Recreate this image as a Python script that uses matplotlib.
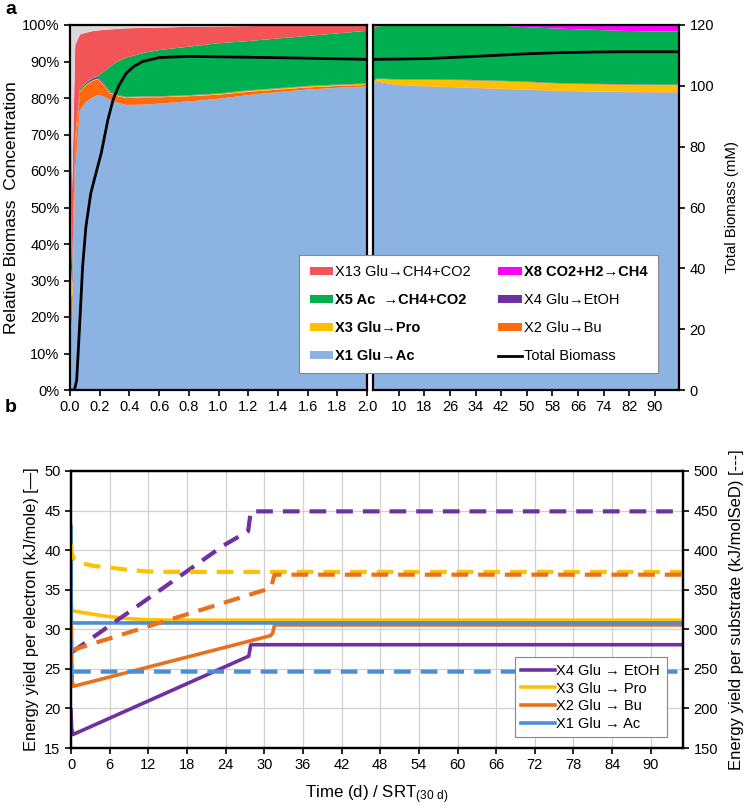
import matplotlib
matplotlib.use("Agg")
import matplotlib.pyplot as plt
import numpy as np
from matplotlib.patches import Patch
from matplotlib.lines import Line2D

plt.rcParams['font.family'] = ['Liberation Sans', 'DejaVu Sans']
plt.rcParams['mathtext.default'] = 'regular'

# ---- panel a: relative biomass (%), early phase 0-2 d ----
t_early = [0, 0.015, 0.035, 0.067, 0.11, 0.16, 0.19, 0.23, 0.27, 0.32,
           0.38, 0.5, 0.61, 0.81, 1.0, 1.2, 1.4, 1.6, 1.8, 2.0]
x1_early = [12.5, 20, 60, 76.7, 79.0, 80.3, 80.8, 80.4, 79.5, 78.7,
            78.1, 78.2, 78.5, 79.1, 79.8, 80.8, 81.6, 82.3, 82.8, 83.2]
x2_early = [12.5, 6, 6, 5.0, 4.6, 4.5, 4.3, 3.0, 1.8, 1.8,
            1.9, 2.0, 1.7, 1.4, 1.1, 0.9, 0.7, 0.6, 0.5, 0.4]
x3_early = [12.5, 3, 1.5, 0.3, 0.2, 0.2, 0.2, 0.2, 0.2, 0.2,
            0.2, 0.2, 0.2, 0.2, 0.25, 0.3, 0.3, 0.3, 0.3, 0.3]
x4_early = [12.5, 3, 1.0, 0.4, 0.4, 0.5, 0.5, 0.4, 0.3, 0.2,
            0.1, 0.1, 0.1, 0.1, 0.1, 0.1, 0.1, 0.1, 0.1, 0.1]
x5_early = [12.5, 2, 0.5, 0.2, 0.2, 0.2, 0.3, 3.3, 6.8, 9.1,
            10.8, 11.9, 12.7, 13.3, 13.75, 13.5, 13.6, 13.7, 14.0, 14.4]
x13_early = [12.5, 20, 25, 14.7, 13.5, 12.7, 12.4, 11.4, 10.2, 8.9,
             8.0, 6.8, 6.1, 5.4, 4.6, 4.1, 3.5, 2.85, 2.2, 1.6]
x8_early = [12.5, 2, 0.5, 0.1, 0, 0, 0, 0, 0, 0,
            0, 0, 0, 0, 0, 0, 0, 0, 0, 0]

# ---- panel a: relative biomass (%), 2-97 d ----
t_late = [2, 3, 5, 8, 12, 20, 30, 40, 50, 60, 70, 80, 90, 97.5]
x1_late = [83.6, 84.4, 84.0, 83.7, 83.4, 83.1, 82.8, 82.5, 82.2, 81.9, 81.7, 81.6, 81.5, 81.5]
x2_late = [0.3, 0.2, 0.2, 0.1, 0.1, 0.1, 0.1, 0.1, 0.1, 0.1, 0.1, 0.1, 0.1, 0.1]
x3_late = [0.2, 0.6, 1.0, 1.3, 1.5, 1.8, 2.0, 2.1, 2.1, 2.0, 2.0, 2.0, 2.0, 2.0]
x4_late = [0.1] * 14
x5_late = [14.6, 14.2, 14.5, 14.8, 14.9, 14.9, 15.0, 15.1, 14.9, 14.9, 14.8, 14.6, 14.5, 14.5]
x13_late = [1.2, 0.5, 0.2, 0, 0, 0, 0, 0, 0, 0, 0, 0, 0, 0]
x8_late = [0, 0, 0, 0, 0, 0, 0, 0.1, 0.6, 1.0, 1.3, 1.6, 1.8, 1.8]

# total biomass (mM)
tb_t_early = [0, 0.03, 0.045, 0.062, 0.085, 0.107, 0.14, 0.175, 0.21, 0.255,
              0.29, 0.33, 0.38, 0.43, 0.49, 0.6, 0.8, 1.2, 1.6, 2.0]
tb_early = [0, 0, 3.2, 18.6, 40.6, 53.6, 64.7, 71.3, 77.8, 88.8,
            95.4, 100.2, 104.2, 106.4, 108.0, 109.3, 109.7, 109.4, 109.1, 108.7]
tb_t_late = [2, 10, 20, 28, 40, 49, 60, 70, 80, 97.5]
tb_late = [108.7, 108.8, 109.0, 109.4, 110.0, 110.5, 110.9, 111.1, 111.2, 111.2]

# ---- panel b: energy yields ----
x1_e_t = [0, 0.05, 0.3, 95]
x1_e = [43, 30.8, 30.8, 30.8]
x1_s_t = [0, 0.1, 0.4, 95]
x1_s = [290, 235, 246.5, 246.5]
x2_e_t = [0, 0.15, 0.4, 31.0, 31.3, 31.6, 95]
x2_e = [34.2, 23.5, 22.8, 29.2, 29.5, 30.55, 30.55]
x2_s_t = [0, 0.3, 31.0, 31.6, 95]
x2_s = [274, 274, 352, 369, 369]
x3_e_t = [0, 0.1, 0.5, 3.4, 6, 9, 12, 16, 95]
x3_e = [34, 32.4, 32.3, 31.9, 31.6, 31.35, 31.2, 31.15, 31.15]
x3_s_t = [0, 0.15, 0.6, 1.4, 3.5, 6, 9, 12, 16, 95]
x3_s = [408, 395, 388, 384, 380, 378, 375, 373, 372.5, 372.5]
x4_e_t = [0, 0.1, 0.3, 27.3, 27.6, 27.9, 95]
x4_e = [19.8, 17.5, 16.7, 26.5, 26.6, 28.05, 28.05]
x4_s_t = [0, 0.3, 23.7, 27.5, 27.9, 95]
x4_s = [272, 272, 406, 424, 449, 449]

labels_a = ['X1 Glu→Ac', 'X2 Glu→Bu', 'X3 Glu→Pro', 'X4 Glu→EtOH',
            'X5 Ac  →CH4+CO2', 'X13 Glu→CH4+CO2', 'X8 CO2+H2→CH4']
colors_a = ['#8DB3E2', '#FF6A10', '#FFC000', '#7030A0', '#00B050', '#F25458', '#FF00FF', '#D9D9D9']

c_x1, c_x2, c_x3, c_x4 = '#4A8ED6', '#E8711E', '#FFC000', '#7030A0'

fig = plt.figure(figsize=(7.53, 8.06), dpi=100)

H, W = 806, 753
ax1 = fig.add_axes([70 / W, 1 - 390 / H, 297 / W, 365 / H])
ax2 = fig.add_axes([373 / W, 1 - 390 / H, 306 / W, 365 / H])


def stack(ax, t, layers):
    arr = np.array(layers, dtype=float)
    other = np.clip(100 - arr.sum(axis=0), 0, None)
    ax.stackplot(t, *arr, other, colors=colors_a, linewidth=0)


stack(ax1, t_early, [x1_early, x2_early, x3_early, x4_early, x5_early, x13_early, x8_early])
stack(ax2, t_late, [x1_late, x2_late, x3_late, x4_late, x5_late, x13_late, x8_late])

for ax in (ax1, ax2):
    ax.set_ylim(0, 100)
    for s in ax.spines.values():
        s.set_linewidth(1.6)
    ax.tick_params(direction='out', length=4, width=1.2, labelsize=10.5)

ax1.set_xlim(0, 2.0)
ax1.set_xticks(np.arange(0, 2.01, 0.2))
ax1.set_xticklabels([f'{v:.1f}' for v in np.arange(0, 2.01, 0.2)])
ax1.set_yticks(np.arange(0, 101, 10))
ax1.set_yticklabels([f'{v}%' for v in range(0, 101, 10)])
ax1.set_ylabel('Relative Biomass  Concentration', fontsize=12.5, labelpad=2)

ax2.set_xlim(2, 97.5)
ax2.set_xticks(np.arange(10, 91, 8))
ax2.set_yticks([])

tw1 = ax1.twinx()
tw1.set_ylim(0, 120)
tw1.plot(tb_t_early, tb_early, color='black', lw=2)
tw1.set_yticks([])
tw1.set_frame_on(False)

tw2 = ax2.twinx()
tw2.set_ylim(0, 120)
tw2.plot(tb_t_late, tb_late, color='black', lw=2)
tw2.set_yticks(np.arange(0, 121, 20))
tw2.tick_params(direction='out', length=4, width=1.2, labelsize=10.5)
tw2.set_frame_on(False)
tw2.set_ylabel('Total Biomass (mM)', fontsize=10.7, labelpad=8)

# legend for panel a
h = {lab: Patch(facecolor=c, edgecolor='none') for lab, c in zip(labels_a, colors_a)}
handles = [h['X13 Glu→CH4+CO2'], h['X5 Ac  →CH4+CO2'], h['X3 Glu→Pro'], h['X1 Glu→Ac'],
           h['X8 CO2+H2→CH4'], h['X4 Glu→EtOH'], h['X2 Glu→Bu'],
           Line2D([], [], color='black', lw=2)]
leg_labels = ['X13 Glu→CH4+CO2', 'X5 Ac  →CH4+CO2', 'X3 Glu→Pro', 'X1 Glu→Ac',
              'X8 CO2+H2→CH4', 'X4 Glu→EtOH', 'X2 Glu→Bu', 'Total Biomass']
leg = fig.legend(handles, leg_labels, ncol=2, loc='upper left',
                 bbox_to_anchor=(292 / W, 1 - 248 / H), fontsize=10.5,
                 frameon=True, fancybox=False, edgecolor='#888888', framealpha=1,
                 handlelength=1.6, handleheight=0.45, handletextpad=0.15,
                 labelspacing=0.95, columnspacing=1.9, borderpad=0.7)
leg.get_frame().set_linewidth(0.8)
for txt in leg.get_texts():
    if txt.get_text() in ('X5 Ac  →CH4+CO2', 'X3 Glu→Pro', 'X1 Glu→Ac', 'X8 CO2+H2→CH4'):
        txt.set_fontweight('bold')

# ---- panel b ----
# left axis (per electron, solid) sits below; right axis (per substrate, dashed) on top
axb = fig.add_axes([71 / W, 1 - 748 / H, 612 / W, 277 / H])
axr = axb.twinx()
axb.set_xlim(0, 95)
axb.set_ylim(15, 50)
axr.set_ylim(150, 500)
axb.set_xticks(np.arange(0, 91, 6))
axb.set_yticks(np.arange(15, 51, 5))
axr.set_yticks(np.arange(150, 501, 50))
axb.grid(True, color='#D0D0D0', lw=0.9)
axb.set_axisbelow(True)

l4, = axb.plot(x4_e_t, x4_e, color=c_x4, lw=2.6)
l3, = axb.plot(x3_e_t, x3_e, color=c_x3, lw=2.6)
l2, = axb.plot(x2_e_t, x2_e, color=c_x2, lw=2.6)
l1, = axb.plot(x1_e_t, x1_e, color=c_x1, lw=2.6)

dash = dict(lw=3.0, linestyle=(0, (4, 2.4)))
axr.plot(x4_s_t, x4_s, color=c_x4, **dash)
axr.plot(x3_s_t, x3_s, color=c_x3, **dash)
axr.plot(x2_s_t, x2_s, color=c_x2, **dash)
axr.plot(x1_s_t, x1_s, color=c_x1, **dash)

for ax in (axb, axr):
    for s in ax.spines.values():
        s.set_linewidth(1.6)
    ax.tick_params(direction='out', length=4, width=1.2, labelsize=10.5)

axb.set_ylabel('Energy yield per electron (kJ/mole) [—]', fontsize=11.8, labelpad=4)
axr.set_ylabel('Energy yield per substrate (kJ/molSeD) [---]', fontsize=12, labelpad=8)
axb.set_xlabel('Time (d) / SRT$_{(30\\ d)}$', fontsize=12.2, labelpad=8)

legb = axr.legend([l4, l3, l2, l1],
                  ['X4 Glu → EtOH', 'X3 Glu → Pro', 'X2 Glu → Bu', 'X1 Glu → Ac'],
                  loc='lower right', bbox_to_anchor=(0.985, 0.012), fontsize=10.5,
                  frameon=True, fancybox=False, edgecolor='#888888', framealpha=1,
                  handlelength=2.3, handletextpad=0.1, labelspacing=0.25, borderpad=0.45)
legb.get_frame().set_linewidth(0.8)

fig.text(5 / W, 1 - 14 / H, 'a', fontsize=14, fontweight='bold')
fig.text(5 / W, 1 - 412 / H, 'b', fontsize=14, fontweight='bold')

fig.savefig('out.png', dpi=100)
